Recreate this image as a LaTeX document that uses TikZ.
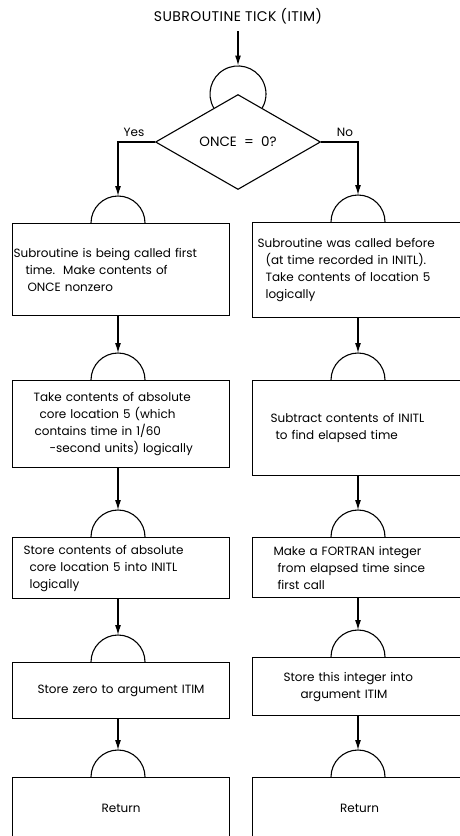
\documentclass[tikz,border=0pt]{standalone}
\usepackage{fontspec}
\setmainfont{Poppins}
\usetikzlibrary{shapes.geometric,arrows.meta,calc}
\begin{document}
\begin{tikzpicture}[x=1pt,y=1pt,
  flow/.style={line width=1.1pt},
  arr/.style={flow,-{Latex[length=10pt,width=6pt]}},
  txt/.style={font=\fontsize{12}{17}\selectfont},
  box/.style={draw,line width=1.1pt,rectangle,inner xsep=1pt,inner ysep=0pt,
    align=left,anchor=north west,txt},
  lbox/.style={box,minimum width=217pt,text width=215pt},
  rbox/.style={box,minimum width=214pt,text width=212pt},
  conn/.style={flow}
]
\useasboundingbox (0,0) rectangle (460,-836);
\clip (0,0) rectangle (460,-836);

% entry
\node[font=\fontsize{14}{16}\selectfont\addfontfeature{LetterSpace=3},inner sep=0pt]
  (title) at (238,-16) {SUBROUTINE TICK (ITIM)};
\node[draw,diamond,line width=1.1pt,minimum width=165pt,minimum height=95pt,
      inner sep=0pt,font=\fontsize{13.5}{15}\selectfont] (dec) at (238,-142)
  {ONCE\ \ =\ \ 0?};
\coordinate (k0) at (238,-65.5);
\draw[conn] (dec.north) ++(209.93:28) arc[start angle=209.93,end angle=-29.93,radius=28];
\draw[arr] ($(title.south)+(0,-7)$) -- (k0);

% left column
\node[lbox,minimum height=92pt] (L1) at (12,-223)
  {Subroutine is being called first\\\hspace*{12pt}time.\ \ Make contents of\\\hspace*{14pt}ONCE nonzero};
\node[lbox,minimum height=87pt] (L2) at (12,-380)
  {\hspace*{20pt}Take contents of absolute\\\hspace*{26pt}core location 5 (which\\\hspace*{21pt}contains time in 1/60\\\hspace*{36pt}-second units) logically};
\node[lbox,minimum height=61pt] (L3) at (12,-537)
  {\hspace*{10pt}Store contents of absolute\\\hspace*{16pt}core location 5 into INITL\\\hspace*{16pt}logically};
\node[lbox,minimum height=56pt,align=center] (L4) at (12,-662)
  {Store zero to argument ITIM};
\node[lbox,minimum height=62pt,align=center] (L5) at (12,-777) {Return};

% right column
\node[rbox,minimum height=95pt] (R1) at (252,-222)
  {\hspace*{4pt}Subroutine was called before\\\hspace*{12pt}(at time recorded in INITL).\\\hspace*{12pt}Take contents of location 5\\\hspace*{12pt}logically};
\node[rbox,minimum height=95pt] (R2) at (252,-380)
  {\hspace*{17pt}Subtract contents of INITL\\\hspace*{22pt}to find elapsed time};
\node[rbox,minimum height=60pt] (R3) at (252,-537)
  {\hspace*{20pt}Make a FORTRAN integer\\\hspace*{24pt}from elapsed time since\\\hspace*{24pt}first call};
\node[rbox,minimum height=58pt] (R4) at (252,-657)
  {\hspace*{30pt}Store this integer into\\\hspace*{47pt}argument ITIM};
\node[rbox,minimum height=62pt,align=center] (R5) at (252,-777) {Return};

% connector arcs sitting on top of each box
\foreach \b/\x in {L1/118,L2/118,L3/118,L4/118,L5/118,R1/358,R2/358,R3/358,R4/358,R5/358}{
  \path (\b.north west) coordinate (tmp);
  \coordinate (k\b) at (\x,0 |- tmp);
  \draw[conn] ($(k\b)+(-27,0)$) arc[start angle=180,end angle=0,radius=27];
  \coordinate (t\b) at ($(k\b)+(0,27)$);
}

% flow
\node[txt,inner sep=0pt] (yes) at (134,-132) {Yes};
\node[txt,inner sep=0pt] (no) at (345,-132) {No};
\draw[arr] (dec.west) -- (tL1 |- dec.west) -- (tL1);
\draw[arr] (dec.east) -- (tR1 |- dec.east) -- (tR1);
\draw[arr] (L1.south -| tL2) -- (tL2);
\draw[arr] (L2.south -| tL3) -- (tL3);
\draw[arr] (L3.south -| tL4) -- (tL4);
\draw[arr] (L4.south -| tL5) -- (tL5);
\draw[arr] (R1.south -| tR2) -- (tR2);
\draw[arr] (R2.south -| tR3) -- (tR3);
\draw[arr] (R3.south -| tR4) -- (tR4);
\draw[arr] (R4.south -| tR5) -- (tR5);
\end{tikzpicture}
\end{document}
